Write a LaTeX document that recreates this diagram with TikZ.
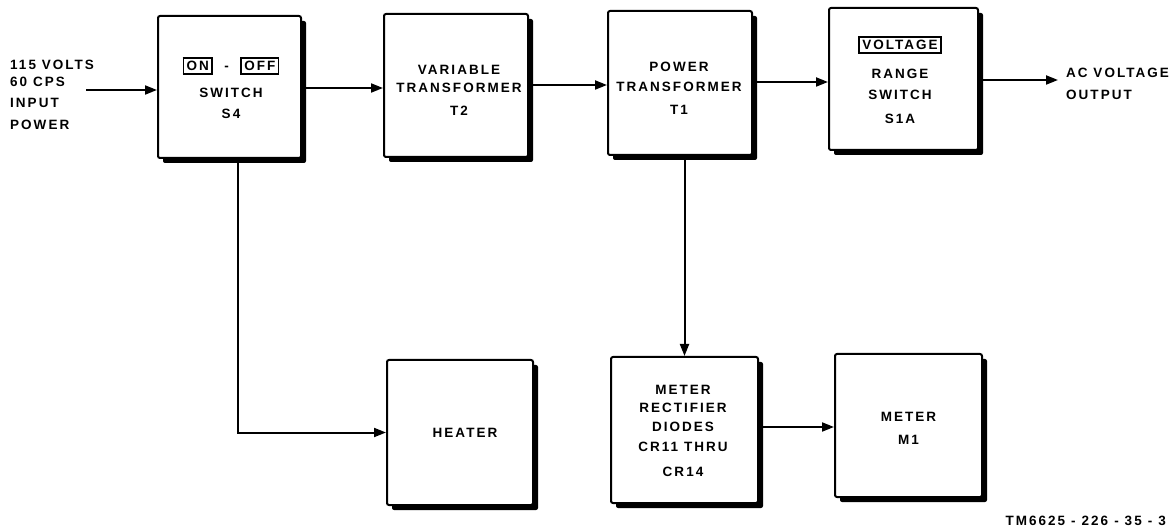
\documentclass[tikz,border=0pt]{standalone}
\usepackage{fontspec}
\newfontfamily\lblfam{Liberation Sans}[LetterSpace=15]
\newcommand\lblfont{\lblfam\bfseries\fontsize{13.5pt}{20pt}\selectfont}
\usetikzlibrary{arrows.meta,shadows}
\setlength{\fboxsep}{2.5pt}
\setlength{\fboxrule}{1.5pt}
\begin{document}
\begin{tikzpicture}[x=1pt,y=-1pt]
\tikzset{
  blk/.style={draw, line width=2pt, fill=white, rounded corners=2pt, inner sep=0pt,
    general shadow={fill=black, shadow xshift=5pt, shadow yshift=-5pt}},
  arr/.style={line width=2pt, -{Triangle[length=12pt,width=9pt]}},
  txt/.style={font=\lblfont, inner sep=0pt, align=center},
  ltxt/.style={font=\lblfont, inner sep=0pt, align=left}
}
\useasboundingbox (0,0) rectangle (1176,529);

% boxes
\node[blk, minimum width=143pt, minimum height=142pt] (s4) at (229.5,87) {};
\node[blk, minimum width=144pt, minimum height=143pt] (vt) at (456,85.5) {};
\node[blk, minimum width=144pt, minimum height=144pt] (pt) at (680,83) {};
\node[blk, minimum width=149pt, minimum height=142pt] (rs) at (903.5,79) {};
\node[blk, minimum width=146pt, minimum height=145pt] (heater) at (460,432.5) {};
\node[blk, minimum width=147pt, minimum height=146pt] (mr) at (684.5,430) {};
\node[blk, minimum width=147pt, minimum height=143pt] (m1) at (908.5,425.5) {};

% box texts
\node[txt] (s4t) at (231,88) {\fbox{ON}\ \ -\ \ \fbox{OFF}\\[7pt]SWITCH\\[1pt]S4};
\node[txt] (vtt) at (459,90.5) {VARIABLE\\[-2pt]TRANSFORMER\\[3pt]T2};
\node[txt] (ptt) at (679,88.5) {POWER\\TRANSFORMER\\[3pt]T1};
\node[txt] (rst) at (900,80) {\fbox{VOLTAGE}\\[9pt]RANGE\\[1pt]SWITCH\\[4pt]S1A};
\node[txt] (heatert) at (465,433) {HEATER};
\node[txt] (mrt) at (683,431) {METER\\[-2pt]RECTIFIER\\[-1pt]DIODES\\CR11 THRU\\[5pt]CR14};
\node[txt] (m1t) at (908.5,428.5) {METER\\[3pt]M1};

% free labels
\node[ltxt, anchor=west] (inp) at (10,95) {115 VOLTS\\[-3pt]60 CPS\\[1pt]INPUT\\[2pt]POWER};
\node[ltxt, anchor=west] (outp) at (1066,84) {AC VOLTAGE\\[2pt]OUTPUT};
\node[ltxt, anchor=east] (tm) at (1166,521)
  {TM6625\hspace{6pt}-\hspace{6pt}226\hspace{6pt}-\hspace{6pt}35\hspace{6pt}-\hspace{6pt}3};

\coordinate (in1) at (86,90);
\coordinate (out1) at (1058,80);
\coordinate (r1) at (0,88);
\coordinate (r2) at (0,85);
\coordinate (r3) at (0,82);
\coordinate (r4) at (0,80);
\coordinate (r5) at (0,427);
\coordinate (c1) at (238,0);

\draw[arr] (in1) -- (in1 -| s4.west);
\draw[arr] (s4.east |- r1) -- (vt.west |- r1);
\draw[arr] (vt.east |- r2) -- (pt.west |- r2);
\draw[arr] (pt.east |- r3) -- (rs.west |- r3);
\draw[arr] (rs.east |- r4) -- (out1);
\draw[arr] (s4.south -| c1) |- (heater.west);
\draw[arr] (pt.south -| mr.north) -- (mr.north);
\draw[arr] (mr.east |- r5) -- (m1.west |- r5);
\end{tikzpicture}
\end{document}
